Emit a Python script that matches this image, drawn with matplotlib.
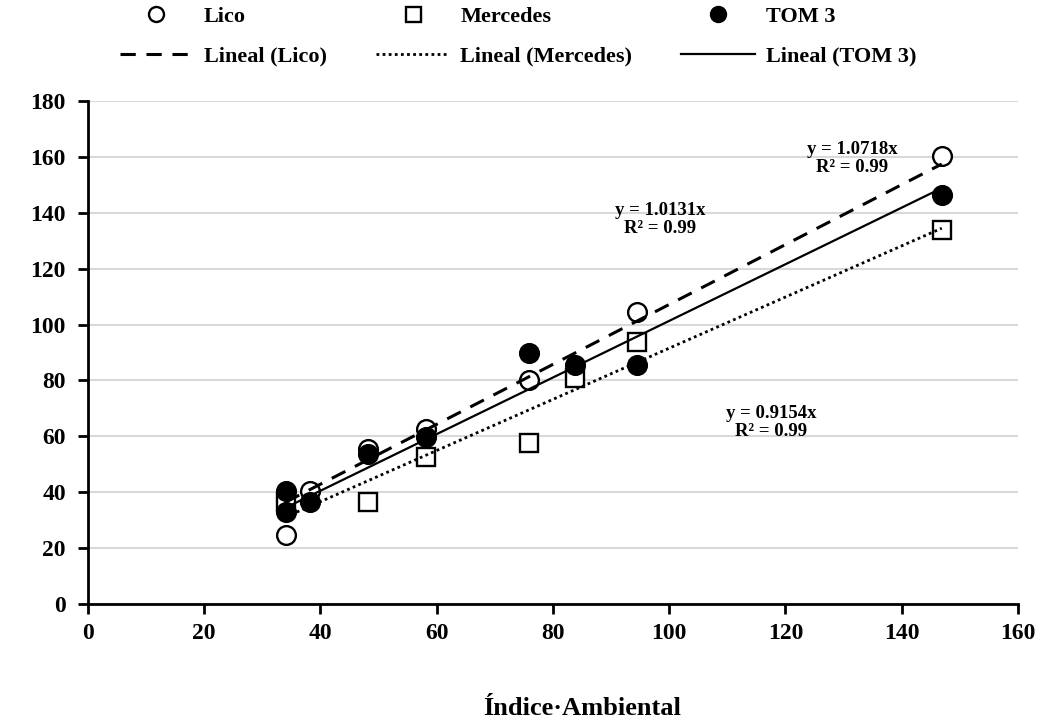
import numpy as np
import matplotlib
matplotlib.use("Agg")
import matplotlib.pyplot as plt

plt.rcParams["font.family"] = ["Liberation Serif", "DejaVu Serif"]
plt.rcParams["font.weight"] = "bold"

# datos
lico_x = [34, 38.2, 48.2, 58.2, 75.9, 94.5, 146.9]
lico_y = [24.7, 40.5, 55.5, 62.5, 80.2, 104.5, 160.5]

merc_x = [34, 48.2, 58.2, 75.9, 83.8, 94.5, 146.9]
merc_y = [36.6, 36.6, 52.7, 57.5, 80.8, 93.9, 134.0]

tom_x = [34, 34, 38.2, 48.2, 58.2, 75.9, 83.8, 94.5, 146.9]
tom_y = [40.5, 32.8, 36.4, 53.7, 59.9, 89.9, 85.5, 85.5, 146.2]

# pendientes de las lineas de tendencia (por el origen)
slope_lico = 1.0718
slope_merc = 0.9154
slope_tom = 1.0131
r2 = 0.99

# posicion de las ecuaciones (coordenadas de datos)
eq_lico_pos = (131.5, 159.5)
eq_tom_pos = (98.5, 137.5)
eq_merc_pos = (117.5, 65.0)

xticks = list(range(0, 161, 20))
yticks = list(range(0, 181, 20))

fig = plt.figure(figsize=(10.44, 7.19), dpi=100)
ax = fig.add_axes([0.0843, 0.160, 0.8907, 0.6995])

ms = 13.5
ax.plot(lico_x, lico_y, "o", ms=ms, mfc="white", mec="black", mew=1.7,
        label="Lico", zorder=3)
ax.plot(merc_x, merc_y, "s", ms=ms, mfc="white", mec="black", mew=1.7,
        label="Mercedes", zorder=3)
ax.plot(tom_x, tom_y, "o", ms=ms, mfc="black", mec="black", mew=1.7,
        label="TOM 3", zorder=4)


def trend(xs, slope):
    xx = np.array([min(xs), max(xs)])
    return xx, slope * xx


xx, yy = trend(lico_x, slope_lico)
ax.plot(xx, yy, color="black", lw=2.2, dashes=(5, 3.5), label="Lineal (Lico)", zorder=5)
xx, yy = trend(merc_x, slope_merc)
ax.plot(xx, yy, color="black", lw=2, dashes=(1, 1.2), label="Lineal (Mercedes)", zorder=5)
xx, yy = trend(tom_x, slope_tom)
ax.plot(xx, yy, color="black", lw=1.6, label="Lineal (TOM 3)", zorder=5)

eq_kw = dict(ha="center", va="center", fontsize=13.5, fontweight="bold",
             linespacing=1.05, zorder=6)
ax.text(*eq_lico_pos, f"y = {slope_lico:.4f}x\nR² = {r2:.2f}", **eq_kw)
ax.text(*eq_tom_pos, f"y = {slope_tom:.4f}x\nR² = {r2:.2f}", **eq_kw)
ax.text(*eq_merc_pos, f"y = {slope_merc:.4f}x\nR² = {r2:.2f}", **eq_kw)

ax.set_xlim(0, 160)
ax.set_ylim(0, 180)
ax.set_xticks(xticks)
ax.set_yticks(yticks)
ax.tick_params(axis="both", labelsize=17, direction="out", length=7, width=2, pad=7)
ax.tick_params(axis="y", pad=9)

for side in ["top", "right"]:
    ax.spines[side].set_visible(False)
for side in ["left", "bottom"]:
    ax.spines[side].set_linewidth(2)

ax.yaxis.grid(True, color="#d9d9d9", lw=1.5)
ax.set_axisbelow(True)

ax.set_xlabel("Índice·Ambiental", fontsize=19, fontweight="bold", labelpad=38,
              x=0.531)

handles, labels = ax.get_legend_handles_labels()
order = [0, 3, 1, 4, 2, 5]
fig.legend([handles[i] for i in order], [labels[i] for i in order],
           ncol=3, loc="center", bbox_to_anchor=(0.496, 0.949),
           frameon=False, fontsize=16, handlelength=3.3, handletextpad=0.5,
           columnspacing=2.2, labelspacing=0.85, markerscale=0.8)

fig.savefig("out.png", dpi=100)
